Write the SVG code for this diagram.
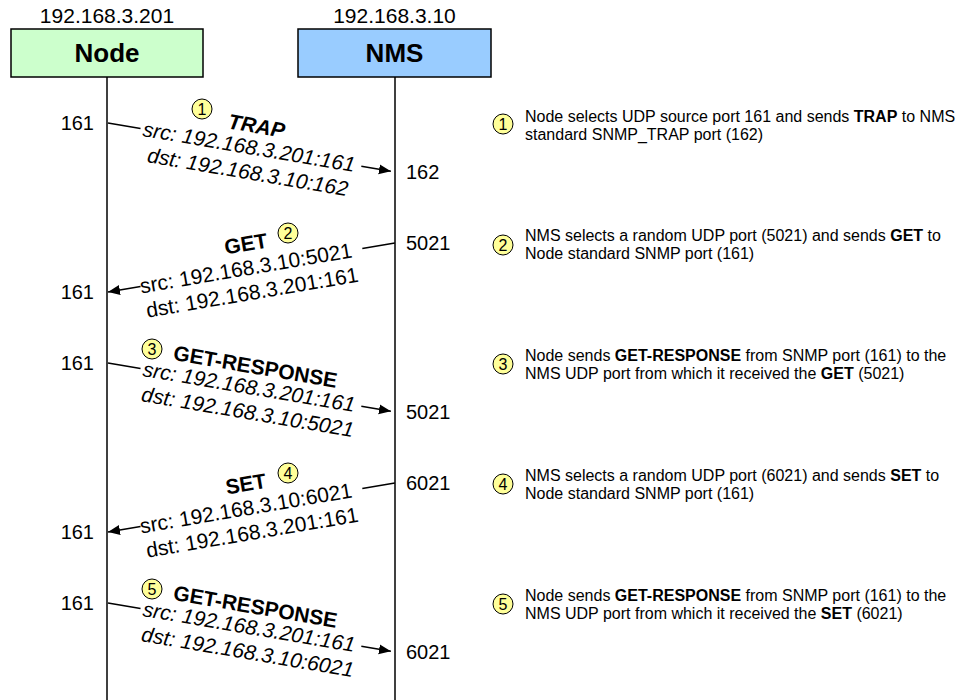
<svg xmlns="http://www.w3.org/2000/svg" width="956" height="700" viewBox="0 0 956 700">
<style>
text{font-family:"Liberation Sans",Arial,sans-serif;fill:#000}
.ip{font-size:21px;text-anchor:middle}
.title{font-size:26px;font-weight:bold;text-anchor:middle}
.port{font-size:20px}
.pl{text-anchor:end}
.lbl{font-size:21px;text-anchor:middle}
.it{font-style:italic}
.b{font-weight:bold}
.num{font-size:16px;text-anchor:middle}
.note{font-size:16px}
.cir{fill:#ffff99;stroke:#000;stroke-width:1}
.life{stroke:#000;stroke-width:1.5}
.msg{stroke:#000;stroke-width:1.5;fill:none}
</style>
<defs>
<marker id="ah" markerUnits="userSpaceOnUse" markerWidth="13" markerHeight="11" refX="12" refY="5" orient="auto-start-reverse">
<path d="M0,0 L12,5 L0,10 z" fill="#000"/>
</marker>
</defs>

<g id="node">
<text class="ip" x="107" y="23">192.168.3.201</text>
<rect x="11" y="29" width="192" height="48" fill="#ccffcc" stroke="#000" stroke-width="1.5"/>
<text class="title" x="107" y="62">Node</text>
<line class="life" x1="107" y1="77" x2="107" y2="700"/>
</g>

<g id="nms">
<text class="ip" x="394.5" y="23">192.168.3.10</text>
<rect x="298" y="29" width="193" height="48" fill="#99ccff" stroke="#000" stroke-width="1.5"/>
<text class="title" x="394.5" y="62">NMS</text>
<line class="life" x1="395" y1="77" x2="395" y2="700"/>
</g>

<g id="connectors">
<g transform="translate(108,123) rotate(9.7)">
<line class="msg" x1="0" y1="0" x2="33" y2="0"/>
<line class="msg" x1="257" y1="0" x2="287" y2="0" marker-end="url(#ah)"/>
<text class="lbl b it" x="147" y="-15">TRAP</text>
<text class="lbl it" x="143" y="7">src: 192.168.3.201:161</text>
<text class="lbl it" x="146" y="32">dst: 192.168.3.10:162</text>
</g>
<g transform="translate(108,292) rotate(-9.7)">
<line class="msg" x1="0" y1="0" x2="33" y2="0" marker-start="url(#ah)"/>
<line class="msg" x1="258" y1="0" x2="291" y2="0"/>
<text class="lbl b" x="144" y="-17">GET</text>
<text class="lbl" x="140" y="7">src: 192.168.3.10:5021</text>
<text class="lbl" x="142" y="32">dst: 192.168.3.201:161</text>
</g>
<g transform="translate(108,363) rotate(9.7)">
<line class="msg" x1="0" y1="0" x2="33" y2="0"/>
<line class="msg" x1="257" y1="0" x2="287" y2="0" marker-end="url(#ah)"/>
<text class="lbl b" x="146" y="-14">GET-RESPONSE</text>
<text class="lbl it" x="143" y="7">src: 192.168.3.201:161</text>
<text class="lbl it" x="146" y="32">dst: 192.168.3.10:5021</text>
</g>
<g transform="translate(108,532) rotate(-9.7)">
<line class="msg" x1="0" y1="0" x2="33" y2="0" marker-start="url(#ah)"/>
<line class="msg" x1="258" y1="0" x2="291" y2="0"/>
<text class="lbl b" x="144" y="-17">SET</text>
<text class="lbl" x="140" y="7">src: 192.168.3.10:6021</text>
<text class="lbl" x="142" y="32">dst: 192.168.3.201:161</text>
</g>
<g transform="translate(108,603) rotate(9.7)">
<line class="msg" x1="0" y1="0" x2="33" y2="0"/>
<line class="msg" x1="257" y1="0" x2="287" y2="0" marker-end="url(#ah)"/>
<text class="lbl b" x="146" y="-14">GET-RESPONSE</text>
<text class="lbl it" x="143" y="7">src: 192.168.3.201:161</text>
<text class="lbl it" x="146" y="32">dst: 192.168.3.10:6021</text>
</g>
</g>

<g id="ports">
<text class="port pl" x="94" y="130">161</text>
<text class="port" x="406" y="179">162</text>
<text class="port" x="406" y="250">5021</text>
<text class="port pl" x="94" y="299">161</text>
<text class="port pl" x="94" y="370">161</text>
<text class="port" x="406" y="419">5021</text>
<text class="port" x="406" y="490">6021</text>
<text class="port pl" x="94" y="539">161</text>
<text class="port pl" x="94" y="610">161</text>
<text class="port" x="406" y="659">6021</text>
</g>

<g id="step-markers">
<circle class="cir" cx="202" cy="109" r="10"/><text class="num" x="202" y="115">1</text>
<circle class="cir" cx="288" cy="233" r="10"/><text class="num" x="288" y="239">2</text>
<circle class="cir" cx="152" cy="349" r="10"/><text class="num" x="152" y="355">3</text>
<circle class="cir" cx="288" cy="473" r="10"/><text class="num" x="288" y="479">4</text>
<circle class="cir" cx="152" cy="589" r="10"/><text class="num" x="152" y="595">5</text>
</g>

<g id="note-1">
<circle class="cir" cx="503" cy="124" r="10"/><text class="num" x="503" y="130">1</text>
<text class="note" x="525" y="122">Node selects UDP source port 161 and sends <tspan class="b">TRAP</tspan> to NMS</text>
<text class="note" x="525" y="140">standard SNMP_TRAP port (162)</text>
</g>
<g id="note-2">
<circle class="cir" cx="503" cy="245" r="10"/><text class="num" x="503" y="251">2</text>
<text class="note" x="525" y="241">NMS selects a random UDP port (5021) and sends <tspan class="b">GET</tspan> to</text>
<text class="note" x="525" y="259">Node standard SNMP port (161)</text>
</g>
<g id="note-3">
<circle class="cir" cx="503" cy="364" r="10"/><text class="num" x="503" y="370">3</text>
<text class="note" x="525" y="361">Node sends <tspan class="b">GET-RESPONSE</tspan> from SNMP port (161) to the</text>
<text class="note" x="525" y="379">NMS UDP port from which it received the <tspan class="b">GET</tspan> (5021)</text>
</g>
<g id="note-4">
<circle class="cir" cx="503" cy="484" r="10"/><text class="num" x="503" y="490">4</text>
<text class="note" x="525" y="481">NMS selects a random UDP port (6021) and sends <tspan class="b">SET</tspan> to</text>
<text class="note" x="525" y="499">Node standard SNMP port (161)</text>
</g>
<g id="note-5">
<circle class="cir" cx="503" cy="604" r="10"/><text class="num" x="503" y="610">5</text>
<text class="note" x="525" y="601">Node sends <tspan class="b">GET-RESPONSE</tspan> from SNMP port (161) to the</text>
<text class="note" x="525" y="619">NMS UDP port from which it received the <tspan class="b">SET</tspan> (6021)</text>
</g>
</svg>
